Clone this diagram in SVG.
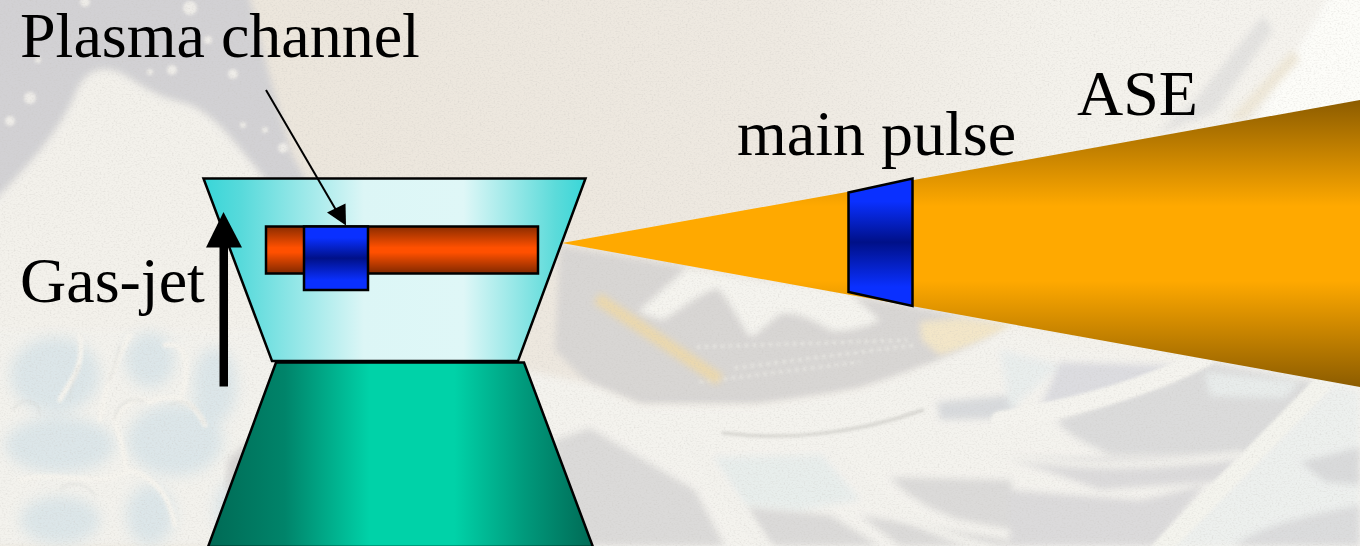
<svg xmlns="http://www.w3.org/2000/svg" width="1369" height="546" viewBox="0 0 1369 546">
<style>
.lbl{font-family:"Liberation Serif","Times New Roman",serif;font-size:64px;fill:#000}
.edge{stroke:#000;stroke-width:2.5;stroke-linejoin:miter}
</style>
<defs>
<linearGradient id="gTop" gradientUnits="userSpaceOnUse" x1="203" y1="0" x2="586" y2="0"><stop offset="0" stop-color="#38d6d8"/><stop offset=".1" stop-color="#58dadb"/><stop offset=".42" stop-color="#dcf6f6"/><stop offset=".68" stop-color="#dff7f7"/><stop offset=".92" stop-color="#5cdbda"/><stop offset="1" stop-color="#38d6d8"/></linearGradient>
<linearGradient id="gBot" gradientUnits="userSpaceOnUse" x1="208" y1="0" x2="593" y2="0"><stop offset="0" stop-color="#006a55"/><stop offset=".2" stop-color="#00846a"/><stop offset=".42" stop-color="#00d2a8"/><stop offset=".64" stop-color="#00d2a8"/><stop offset=".82" stop-color="#009a7c"/><stop offset="1" stop-color="#006a55"/></linearGradient>
<linearGradient id="gRed" x1="0" y1="0" x2="0" y2="1"><stop offset="0" stop-color="#8a2c00"/><stop offset=".45" stop-color="#ff5000"/><stop offset=".55" stop-color="#ff5000"/><stop offset="1" stop-color="#802800"/></linearGradient>
<linearGradient id="gBlue" x1="0" y1="0" x2="0" y2="1"><stop offset="0" stop-color="#0a30ff"/><stop offset=".18" stop-color="#0a30ff"/><stop offset=".5" stop-color="#001088"/><stop offset=".85" stop-color="#0a30ff"/><stop offset="1" stop-color="#0a30ff"/></linearGradient>
<linearGradient id="gCone" gradientUnits="userSpaceOnUse" x1="0" y1="100" x2="0" y2="387"><stop offset="0" stop-color="#8c5c00"/><stop offset=".37" stop-color="#ffa900"/><stop offset=".63" stop-color="#ffa900"/><stop offset="1" stop-color="#8c5c00"/></linearGradient>
<filter id="s1" x="-10%" y="-10%" width="120%" height="120%"><feGaussianBlur stdDeviation="1.500"/></filter>
<filter id="s3" x="-10%" y="-10%" width="120%" height="120%"><feGaussianBlur stdDeviation="3.500"/></filter>
<filter id="s6" x="-10%" y="-10%" width="120%" height="120%"><feGaussianBlur stdDeviation="7"/></filter>
<filter id="grain" x="0" y="0" width="100%" height="100%"><feTurbulence type="fractalNoise" baseFrequency=".5 .7" numOctaves="2" seed="4"/><feColorMatrix values="0 0 0 0 .55 0 0 0 0 .53 0 0 0 0 .5 .5 .5 0 0 -.47"/></filter>
<linearGradient id="gPaper" gradientUnits="userSpaceOnUse" x1="250" y1="0" x2="1300" y2="0"><stop offset="0" stop-color="#ece6dc"/><stop offset=".5" stop-color="#eee9e1"/><stop offset=".78" stop-color="#f4f2ec"/><stop offset="1" stop-color="#f5f3ee"/></linearGradient>
</defs>
<g id="background">
<rect width="1369" height="546" fill="url(#gPaper)"/>
<g filter="url(#s3)">
<path d="M-20 -20H245L268 70L291 153L306 180L300 240L-20 240Z" fill="#d2d1d4"/>
<path d="M-10 205C30 165 60 130 75 95C85 70 100 66 118 72C135 80 150 95 180 102C215 110 235 145 270 185L290 340L-10 340Z" fill="#f3f1eb"/>
</g>
<g filter="url(#s1)" fill="#eeece8"><circle cx="30" cy="98" r="6"/><circle cx="10" cy="121" r="5"/><circle cx="172" cy="70" r="5"/><circle cx="233" cy="74" r="5"/><circle cx="190" cy="8" r="7"/><circle cx="283" cy="148" r="5"/><circle cx="243" cy="125" r="3"/><circle cx="208" cy="40" r="4"/><circle cx="85" cy="2" r="5"/><circle cx="38" cy="60" r="3"/><circle cx="150" cy="72" r="3"/><circle cx="265" cy="130" r="3"/></g>
<path d="M-10 330H280L300 546H-10Z" fill="#f3f2ed" filter="url(#s3)"/>
<g filter="url(#s6)" fill="#dce6e9">
<ellipse cx="55" cy="375" rx="45" ry="38"/><ellipse cx="150" cy="360" rx="25" ry="28"/><ellipse cx="215" cy="385" rx="22" ry="38"/><ellipse cx="60" cy="445" rx="55" ry="28"/><ellipse cx="175" cy="440" rx="48" ry="36"/><ellipse cx="60" cy="520" rx="40" ry="24"/><ellipse cx="150" cy="515" rx="24" ry="30"/><ellipse cx="235" cy="510" rx="20" ry="30"/>
</g>
<path d="M228 460L248 440L240 495L226 490Z" fill="#d6d4d3" filter="url(#s3)"/>
<g filter="url(#s1)" fill="none" stroke="#f6f4ee" stroke-width="5" stroke-linecap="round">
<path d="M115 420C125 400 140 395 150 402C165 395 190 392 205 425M115 420C120 440 125 450 125 470M20 480C60 470 100 490 130 470C160 480 170 500 175 525M60 400C70 380 85 370 80 335M130 335C110 370 105 395 100 420M165 345C190 340 190 370 180 400"/>
</g>
<g filter="url(#s1)" fill="none" stroke="#d5d7d4" stroke-width="1.500" opacity=".7">
<path d="M12 410C25 395 38 400 40 415M115 420C115 405 130 395 145 402M170 405C185 395 200 410 205 425M80 365C70 385 72 395 68 400M120 345C115 365 112 375 108 382M60 490C70 480 85 482 95 495"/>
</g>
<g filter="url(#s3)">
<path d="M560 246L850 295L920 308L1012 325C985 345 955 365 923 367C890 385 830 398 757 405L640 405L590 385L555 350Z" fill="#d8d6d4"/>
<path d="M638 312L687 268L770 282L848 292L880 320C860 330 840 332 830 330C810 318 795 312 780 314C770 322 760 330 753 337L747 333C735 312 725 295 717 288C695 296 680 310 663 320Z" fill="#f5f4ef"/>
<path d="M920 322L960 318L1012 325C990 340 965 350 940 355L922 340Z" fill="#f3e6c8"/>
</g>
<path d="M697 347L907 340M735 368L915 345M700 382L860 362" stroke="#ecebe6" stroke-width="3" stroke-dasharray="3 5" fill="none" filter="url(#s1)"/>
<path d="M597 298L720 380" stroke="#ecd8ac" stroke-width="12" fill="none" filter="url(#s3)"/>
<g filter="url(#s3)">
<path d="M525 370L590 384L640 405L757 405L857 390L923 367L1012 328L1060 345L1190 365L1360 390V560H525Z" fill="#f4f3ee"/>
<path d="M937 402L1012 395L1020 418L940 420Z" fill="#d8dadd"/>
<path d="M555 440L590 428L695 490L725 546H555Z" fill="#dbdad9"/>
<path d="M713 457L823 455L860 500L800 510L745 505Z" fill="#e8eeec"/>
<path d="M747 507L830 515L880 546H770Z" fill="#dbdad9"/>
<path d="M890 477L1012 480L1012 530L960 520C930 510 905 495 890 477Z" fill="#dbdad9"/>
<path d="M860 515L1010 540V546H900Z" fill="#dbdad9"/>
<path d="M1000 350L1060 365L1010 410Z" fill="#e9eeed"/>
<path d="M1060 362L1190 366L1075 403L1040 408Z" fill="#dcdce0"/>
<path d="M1170 382L1208 362L1320 383L1250 457L1110 455C1090 445 1065 435 1057 420Z" fill="#dbdbdb"/>
<path d="M1205 372L1300 382L1285 398L1210 396Z" fill="#e8eceb"/>
<path d="M1010 458L1245 458L1215 482L1100 490Z" fill="#dbdadb"/>
<path d="M1010 490L1140 500L1205 485L1155 546H1010Z" fill="#dbdadb"/>
<path d="M1333 384L1360 392V546H1170Z" fill="#edf0ee"/>
<path d="M1300 462L1360 447V485L1325 482Z" fill="#d9dadb"/>
<path d="M1233 546C1260 525 1310 515 1360 505V546Z" fill="#dbdcdd"/>
</g>
<g filter="url(#s1)" fill="none" stroke-linecap="round">
<path d="M723 433C780 440 850 436 923 410" stroke="#d5d4cf" stroke-width="3"/>
<path d="M1322 384L1160 550" stroke="#f4f4ee" stroke-width="18"/>
<path d="M1000 420C1090 405 1150 385 1205 358" stroke="#f5f4ef" stroke-width="18"/>
</g>
<g filter="url(#s3)" fill="none" stroke="#f3f2ed" stroke-linecap="round">
<path d="M690 440C720 490 750 525 775 560" stroke-width="12"/>
<path d="M830 450C880 510 930 530 990 550" stroke-width="10"/>
<path d="M1000 455C1060 465 1130 470 1240 455" stroke-width="8"/>
</g>
<g filter="url(#s3)">
<path d="M1333 -10L1380 -10V130L1253 125Z" fill="#fdfdf9"/>
<path d="M1263 15L1273 30L1215 112L1155 135L1195 100Z" fill="#e4e3e1"/>
<path d="M1293 50L1300 60L1245 120L1228 120Z" fill="#efe8d8"/>
</g>
<rect width="1360" height="546" filter="url(#grain)"/>
<rect x="1360" width="9" height="546" fill="#fff"/>
</g>
<g id="nozzle"><path class="edge" d="M276 362.500H524L593 547H208Z" fill="url(#gBot)"/></g>
<g id="gas-jet"><path class="edge" d="M203.500 178.500H585.500L518 361H272Z" fill="url(#gTop)"/></g>
<g id="plasma-channel"><rect class="edge" x="266" y="226.500" width="272" height="47" fill="url(#gRed)"/></g>
<g id="channel-pulse"><rect class="edge" x="304" y="226.500" width="64" height="63.500" fill="url(#gBlue)"/></g>
<g id="ase-cone"><path d="M562 243L1360 100V387Z" fill="url(#gCone)"/></g>
<g id="main-pulse"><path class="edge" d="M848.500 192.500L912.500 178.500V306L848.500 292Z" fill="url(#gBlue)"/></g>
<g id="connectors">
<path d="M266 90L336 210" stroke="#000" stroke-width="2" fill="none"/>
<path d="M346 225.500L327 212.500L345.500 203.500Z" fill="#000"/>
<path d="M219.500 386.500V245H228V386.500Z" fill="#000"/>
<path d="M223.500 212L242 247.500H206Z" fill="#000"/>
</g>
<g id="labels">
<text class="lbl" x="20" y="57">Plasma channel</text>
<text class="lbl" x="20" y="302">Gas-jet</text>
<text class="lbl" x="737" y="155">main pulse</text>
<text class="lbl" x="1077" y="115">ASE</text>
</g>
</svg>
